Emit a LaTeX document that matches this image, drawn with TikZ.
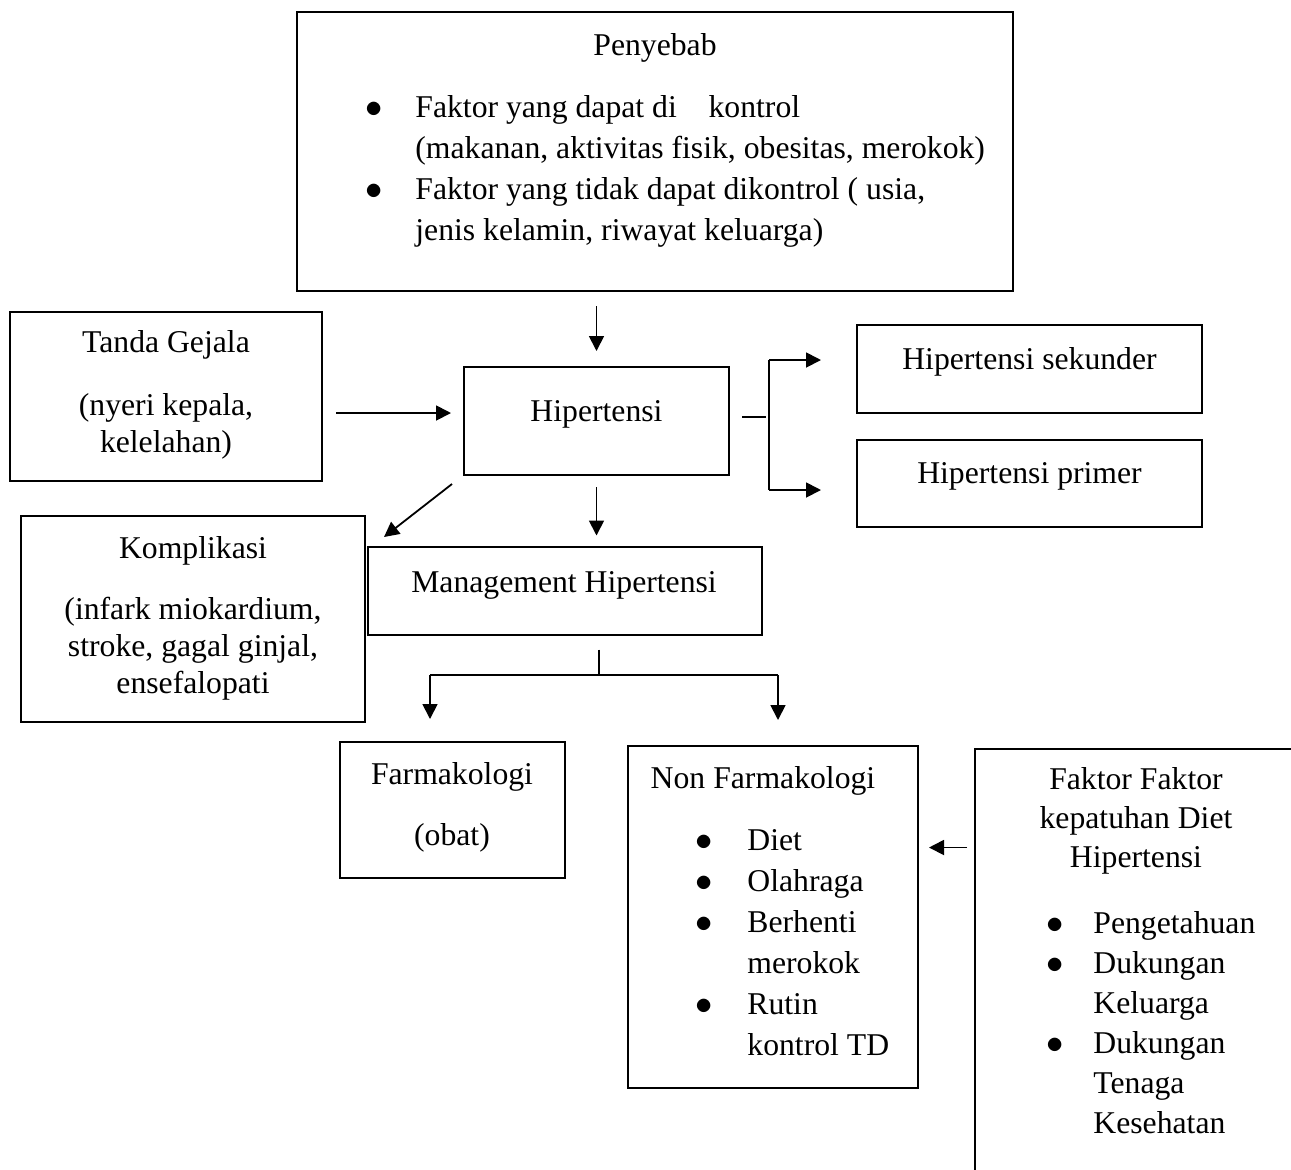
\documentclass[tikz,border=0pt]{standalone}
\usepackage{fontspec}
\setmainfont{Liberation Serif}
\usetikzlibrary{arrows.meta}

% round bullet in a column of fixed width
\newcommand{\blt}[1]{\makebox[#1]{$\bullet$}}

\begin{document}
\begin{tikzpicture}[x=0.5pt,y=-0.5pt,
        font=\fontsize{15.85}{20.5}\selectfont,
        box/.style={draw,line width=1pt,inner sep=0pt},
        txt/.style={inner sep=0pt,anchor=base},
        arr/.style={line width=0.9pt,-{Triangle[length=7.5pt,width=7.5pt]}},
        link/.style={line width=0.6pt}]
    \useasboundingbox (0,0) rectangle (1291,1169);
    \clip (0,0) rectangle (1291,1169);

    % boxes
    \node[box,minimum width=358pt,minimum height=139.5pt] (penyebab) at (655,151.5) {};
    \node[box,minimum width=156pt,minimum height=84.5pt] (tanda) at (166,396.5) {};
    \node[box,minimum width=132.5pt,minimum height=54pt] (hip) at (596.5,421) {};
    \node[box,minimum width=172.5pt,minimum height=44pt] (sekunder) at (1029.5,369) {};
    \node[box,minimum width=172.5pt,minimum height=43.5pt] (primer) at (1029.5,483.5) {};
    \node[box,minimum width=172pt,minimum height=103pt] (komplikasi) at (193,619) {};
    \node[box,minimum width=197pt,minimum height=44pt] (management) at (565,590.5) {};
    \node[box,minimum width=112.5pt,minimum height=68pt] (farmakologi) at (452.5,810) {};
    \node[box,minimum width=145pt,minimum height=171pt] (nonfarm) at (773,917) {};
    \node[box,minimum width=177.5pt,minimum height=225.5pt] (faktor) at (1152.5,974.5) {};

    % texts
    \node[txt] (penyebabT) at (655,55) {Penyebab};
    \node[txt,anchor=base west] (penyebabL) at (333,117) {\begin{tabular}[t]{@{}c@{}l@{}}
        \blt{41pt} & Faktor yang dapat di\hspace{1em}kontrol\\
                   & (makanan, aktivitas fisik, obesitas, merokok)\\
        \blt{41pt} & Faktor yang tidak dapat dikontrol ( usia,\\
                   & jenis kelamin, riwayat keluarga)
        \end{tabular}};
    \node[txt] (tandaT) at (166,352) {Tanda Gejala};
    \node[txt] (tandaB) at (166,415) {\begin{tabular}[t]{@{}c@{}}(nyeri kepala,\\[-2pt]kelelahan)\end{tabular}};
    \node[txt] (hipT) at (596.5,421) {Hipertensi};
    \node[txt] (sekunderT) at (1029.5,369) {Hipertensi sekunder};
    \node[txt] (primerT) at (1029.5,483) {Hipertensi primer};
    \node[txt] (komplikasiT) at (193,558) {Komplikasi};
    \node[txt] (komplikasiB) at (193,619) {\begin{tabular}[t]{@{}c@{}}(infark miokardium,\\[-2pt]stroke, gagal ginjal,\\[-2pt]ensefalopati\end{tabular}};
    \node[txt] (managementT) at (564,592) {Management Hipertensi};
    \node[txt] (farmakologiT) at (452,784) {Farmakologi};
    \node[txt] (farmakologiB) at (452,845) {(obat)};
    \node[txt] (nonfarmT) at (763,788) {Non Farmakologi};
    \node[txt,anchor=base west] (nonfarmL) at (661,850) {\begin{tabular}[t]{@{}c@{}l@{}}
        \blt{43pt} & Diet\\
        \blt{43pt} & Olahraga\\
        \blt{43pt} & Berhenti\\
                   & merokok\\
        \blt{43pt} & Rutin\\
                   & kontrol TD
        \end{tabular}};
    \node[txt] (faktorT) at (1136,789) {\begin{tabular}[t]{@{}c@{}}Faktor Faktor\\[-1pt]kepatuhan Diet\\[-1pt]Hipertensi\end{tabular}};
    \node[txt,anchor=base west] (faktorL) at (1017,933) {\begin{tabular}[t]{@{}c@{}l@{}}
        \blt{38pt} & Pengetahuan\\[-0.5pt]
        \blt{38pt} & Dukungan\\[-0.5pt]
                   & Keluarga\\[-0.5pt]
        \blt{38pt} & Dukungan\\[-0.5pt]
                   & Tenaga\\[-0.5pt]
                   & Kesehatan
        \end{tabular}};

    % fork points
    \coordinate (hipFork) at (769,417);
    \coordinate (sekFork) at (769,360);
    \coordinate (primFork) at (769,490);
    \coordinate (manFork) at (599,675);
    \coordinate (farmFork) at (430,675);
    \coordinate (nonFork) at (778,675);

    % connectors
    \draw[arr,shorten <=7pt,shorten >=7.5pt] (hip.north |- penyebab.south) -- (hip.north);
    \draw[arr,shorten <=6.5pt,shorten >=6pt] ([yshift=-8.25pt]tanda.east) -- ([yshift=4pt]hip.west);
    \draw[link,shorten <=6pt] ([yshift=2pt]hip.east) -- ([xshift=-1.5pt]hipFork);
    \draw[link] (sekFork) -- (primFork);
    \draw[arr,shorten >=17.5pt] (sekFork) -- (sekFork -| sekunder.west);
    \draw[arr,shorten >=17.5pt] (primFork) -- (primFork -| primer.west);
    \draw[arr] ([shift={(-5.5pt,-4pt)}]hip.south west) -- ([shift={(9pt,-11pt)}]komplikasi.north east);
    \draw[arr,shorten <=5.5pt,shorten >=5pt] (hip.south) -- (hip.south |- management.north);
    \draw[link,shorten <=7pt] (manFork |- management.south) -- (manFork);
    \draw[link] (farmFork) -- (nonFork);
    \draw[arr,shorten >=11pt] (farmFork) -- (farmFork |- farmakologi.north);
    \draw[arr,shorten >=12.5pt] (nonFork) -- (nonFork |- nonfarm.north);
    \draw[arr,shorten <=3.5pt,shorten >=5pt] ([yshift=63.5pt]faktor.west) -- ([yshift=34.75pt]nonfarm.east);
\end{tikzpicture}
\end{document}
